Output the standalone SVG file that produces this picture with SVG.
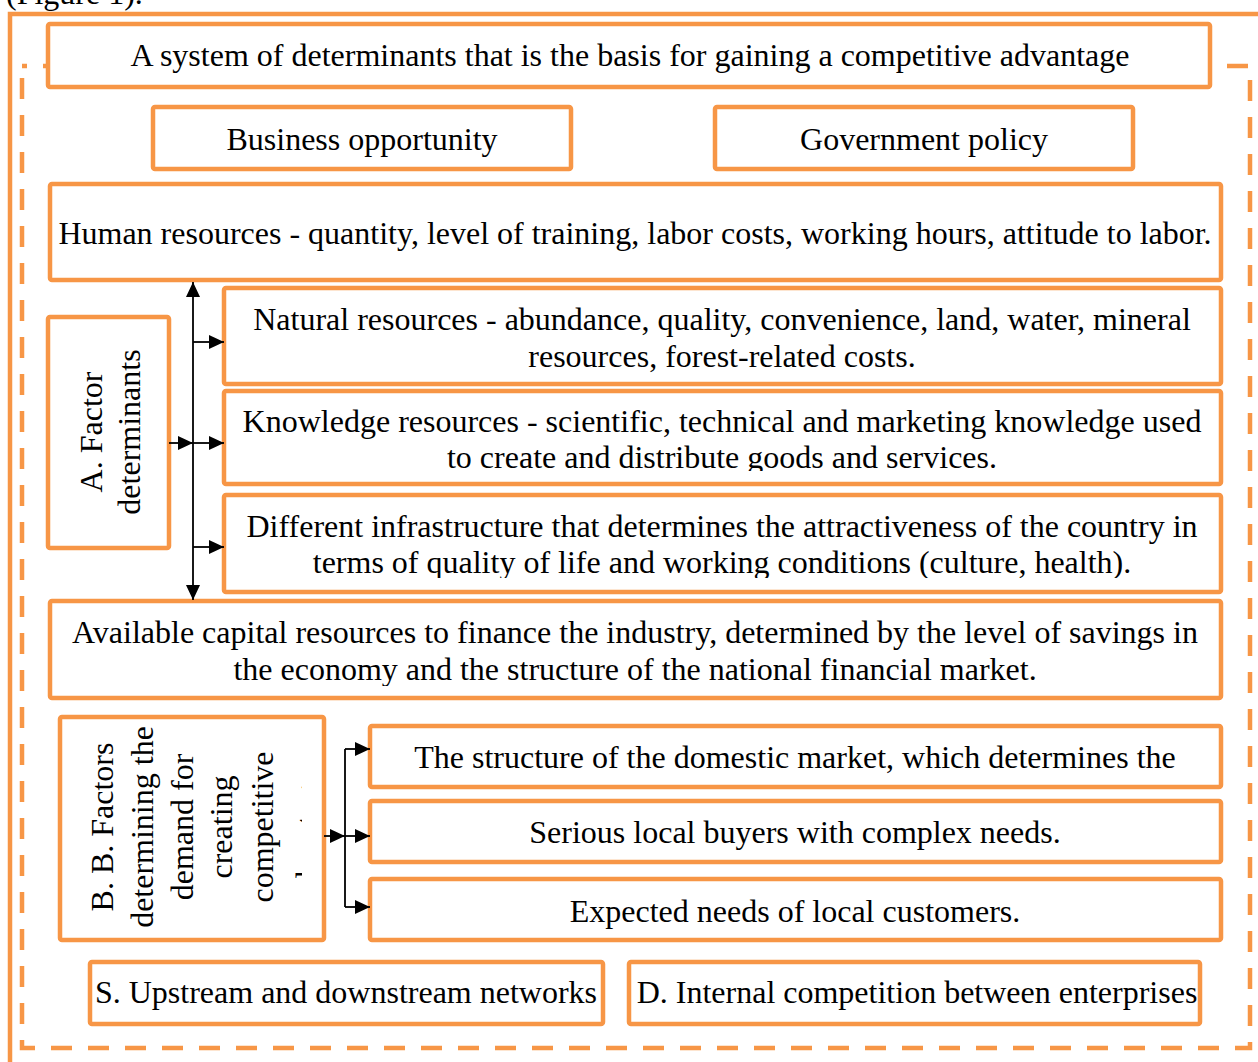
<svg xmlns="http://www.w3.org/2000/svg" width="1258" height="1062" viewBox="0 0 1258 1062">
<style>
.box{fill:#fff;stroke:#F79646;stroke-width:4.5}
.t{font-family:"Liberation Serif","Times New Roman",serif;font-size:32px;fill:#000;text-anchor:middle}
.c{fill:none;stroke:#000;stroke-width:1.8}
</style>
<defs>
<marker id="ah" markerUnits="userSpaceOnUse" markerWidth="16" markerHeight="15" refX="15" refY="7.5" orient="auto-start-reverse" viewBox="0 0 16 15">
<path d="M0,0.5 L15,7.5 L0,14.5 z" fill="#000"/>
</marker>
<clipPath id="clipK"><rect x="224" y="391" width="997" height="80"/></clipPath>
<clipPath id="clipD"><rect x="224" y="495" width="997" height="83"/></clipPath>
<clipPath id="clipA"><rect x="50" y="600" width="1171" height="86"/></clipPath>
<clipPath id="clipB"><rect x="62" y="718" width="240" height="220"/></clipPath>
</defs>
<text class="t" x="6" y="4" style="text-anchor:start">(Figure 1).</text>
<g id="frames">
<rect x="10" y="14" width="1262" height="1062" fill="none" stroke="#F79646" stroke-width="4.5"/>
<rect x="22" y="66" width="1228" height="982" fill="none" stroke="#F79646" stroke-width="4.5" stroke-dasharray="21 16" stroke-dashoffset="16"/>
</g>
<g id="n-title"><rect class="box" x="48" y="24" width="1162" height="63" rx="2"/><text class="t" x="630" y="66">A system of determinants that is the basis for gaining a competitive advantage</text></g>
<g id="n-business"><rect class="box" x="153" y="107" width="418" height="62" rx="2"/><text class="t" x="362" y="150">Business opportunity</text></g>
<g id="n-government"><rect class="box" x="715" y="107" width="418" height="62" rx="2"/><text class="t" x="924" y="150">Government policy</text></g>
<g id="n-human"><rect class="box" x="50" y="184" width="1171" height="96" rx="2"/><text class="t" x="635" y="244">Human resources - quantity, level of training, labor costs, working hours, attitude to labor.</text></g>
<g id="n-factor"><rect class="box" x="48" y="317" width="121" height="231" rx="2"/><text class="t" transform="translate(102,432) rotate(-90)">A. Factor</text><text class="t" transform="translate(140,432) rotate(-90)">determinants</text></g>
<g id="n-natural"><rect class="box" x="224" y="288" width="997" height="96" rx="2"/><text class="t" x="722" y="330">Natural resources - abundance, quality, convenience, land, water, mineral</text><text class="t" x="722" y="367">resources, forest-related costs.</text></g>
<g id="n-knowledge"><rect class="box" x="224" y="391" width="997" height="93" rx="2"/><g clip-path="url(#clipK)"><text class="t" x="722" y="432">Knowledge resources - scientific, technical and marketing knowledge used</text><text class="t" x="722" y="468">to create and distribute goods and services.</text></g></g>
<g id="n-infrastructure"><rect class="box" x="224" y="495" width="997" height="97" rx="2"/><g clip-path="url(#clipD)"><text class="t" x="722" y="537">Different infrastructure that determines the attractiveness of the country in</text><text class="t" x="722" y="573">terms of quality of life and working conditions (culture, health).</text></g></g>
<g id="n-capital"><rect class="box" x="50" y="601" width="1171" height="97" rx="2"/><g clip-path="url(#clipA)"><text class="t" x="635" y="643">Available capital resources to finance the industry, determined by the level of savings in</text><text class="t" x="635" y="680">the economy and the structure of the national financial market.</text></g></g>
<g id="n-demand"><rect class="box" x="60" y="717" width="264" height="223" rx="2"/><g clip-path="url(#clipB)"><text class="t" transform="translate(113,827) rotate(-90)">B. B. Factors</text><text class="t" transform="translate(153,827) rotate(-90)">determining the</text><text class="t" transform="translate(193,827) rotate(-90)">demand for</text><text class="t" transform="translate(232,827) rotate(-90)">creating</text><text class="t" transform="translate(273,827) rotate(-90)">competitive</text><text class="t" transform="translate(318,836) rotate(-90)">advantage</text></g></g>
<g id="n-structure"><rect class="box" x="370" y="726" width="851" height="61" rx="2"/><text class="t" x="795" y="768">The structure of the domestic market, which determines the</text></g>
<g id="n-serious"><rect class="box" x="370" y="801" width="851" height="61" rx="2"/><text class="t" x="795" y="843">Serious local buyers with complex needs.</text></g>
<g id="n-expected"><rect class="box" x="370" y="879" width="851" height="61" rx="2"/><text class="t" x="795" y="922">Expected needs of local customers.</text></g>
<g id="n-upstream"><rect class="box" x="90" y="962" width="513" height="62" rx="2"/><text class="t" x="346" y="1003">S. Upstream and downstream networks</text></g>
<g id="n-competition"><rect class="box" x="629" y="962" width="571" height="62" rx="2"/><text class="t" x="917" y="1003">D. Internal competition between enterprises</text></g>
<g id="connectors">
<line class="c" x1="193" y1="282" x2="193" y2="600" marker-start="url(#ah)" marker-end="url(#ah)"/>
<line class="c" x1="169" y1="443" x2="193" y2="443" marker-end="url(#ah)"/>
<line class="c" x1="193" y1="342" x2="224" y2="342" marker-end="url(#ah)"/>
<line class="c" x1="193" y1="443" x2="224" y2="443" marker-end="url(#ah)"/>
<line class="c" x1="193" y1="547" x2="224" y2="547" marker-end="url(#ah)"/>
<line class="c" x1="324" y1="836" x2="345" y2="836" marker-end="url(#ah)"/>
<line class="c" x1="345" y1="749" x2="345" y2="907"/>
<line class="c" x1="345" y1="749" x2="370" y2="749" marker-end="url(#ah)"/>
<line class="c" x1="345" y1="836" x2="370" y2="836" marker-end="url(#ah)"/>
<line class="c" x1="345" y1="907" x2="370" y2="907" marker-end="url(#ah)"/>
</g>
</svg>
